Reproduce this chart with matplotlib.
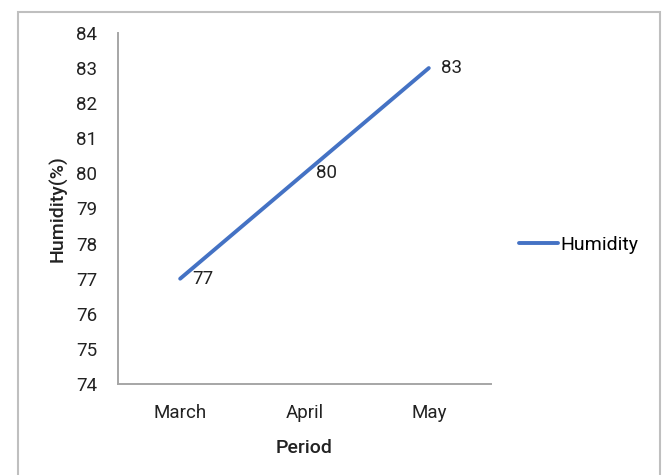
import matplotlib.pyplot as plt
from matplotlib.patches import Rectangle

plt.rcParams['font.family'] = ['Roboto', 'DejaVu Sans']

months = ["March", "April", "May"]
humidity = [77, 80, 83]
yticks = list(range(74, 85))

fig = plt.figure(figsize=(6.63, 4.75), dpi=100)
ax = fig.add_axes([0.178, 0.1916, 0.5625, 0.739])

x = list(range(len(months)))
ax.plot(x, humidity, color="#4472C4", linewidth=2.8, solid_capstyle="round",
        label="Humidity")
for xi, v in zip(x, humidity):
    ax.annotate(str(v), (xi, v), xytext=(8.5, 0), textcoords="offset points",
                ha="left", va="center", fontsize=13.5, color="#222222")

ax.set_xlim(-0.5, 2.5)
ax.set_ylim(74, 84)
ax.set_xticks(x)
ax.set_xticklabels(months)
ax.set_yticks(yticks)
ax.tick_params(length=0, labelsize=13.5, colors="#222222")
ax.tick_params(axis="x", pad=14.5)
ax.tick_params(axis="y", pad=15)

for side in ["top", "right"]:
    ax.spines[side].set_visible(False)
for side in ["left", "bottom"]:
    ax.spines[side].set_color("#A6A6A6")
    ax.spines[side].set_linewidth(1.4)

ax.set_xlabel("Period", fontsize=14, fontweight="medium", color="#222222", labelpad=12)
ax.set_ylabel("Humidity(%)", fontsize=14, fontweight="medium", color="#222222", labelpad=6)

ax.legend(loc="center left", bbox_to_anchor=(1.075, 0.396), frameon=False,
          fontsize=14, handlelength=2.0, handletextpad=0.15,
          borderaxespad=0, borderpad=0)

# outer chart border
fig.patches.append(Rectangle((17.5 / 663, -0.05), 642 / 663, 1.05 - 12 / 475,
                             transform=fig.transFigure, fill=False,
                             edgecolor="#BFBFBF", linewidth=1.5))

fig.savefig("out.png", dpi=100)
